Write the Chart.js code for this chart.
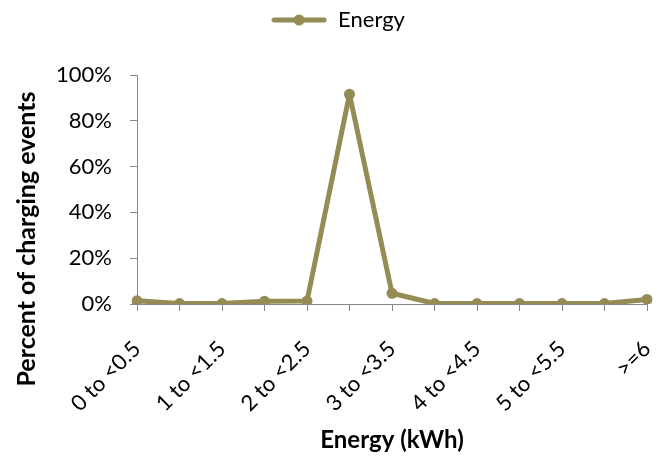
<!DOCTYPE html>
<html>
<head>
<meta charset="utf-8">
<script src="https://cdn.jsdelivr.net/npm/chart.js@4"></script>
<style>
  html, body { margin: 0; padding: 0; background: #fff; }
  #wrap { width: 660px; height: 456px; }
</style>
</head>
<body>
<div id="wrap"><canvas id="c" width="660" height="456"></canvas></div>
<script>
// Energy bins (kWh) and share of charging events in each bin (%)
const categories = ['0 to <0.5', '0.5 to <1', '1 to <1.5', '1.5 to <2', '2 to <2.5', '2.5 to <3',
  '3 to <3.5', '3.5 to <4', '4 to <4.5', '4.5 to <5', '5 to <5.5', '5.5 to <6', '>=6'];
const energyShare = [1.4, 0.2, 0.2, 1.2, 1.3, 91.6, 4.7, 0.2, 0.2, 0.2, 0.2, 0.2, 2.0];
const yTicks = [0, 20, 40, 60, 80, 100];
const seriesName = 'Energy';
const xTitle = 'Energy (kWh)';
const yTitle = 'Percent of charging events';

const olive = '#958B54';
const axisGrey = '#888888';
const fontFamily = 'Lato, "Open Sans", sans-serif';
const legendBandHeight = 75;

// Legend marker: a short line with a dot in the middle
const marker = document.createElement('canvas');
marker.width = 56; marker.height = 14;
(function () {
  const g = marker.getContext('2d');
  g.strokeStyle = olive; g.lineWidth = 5; g.lineCap = 'round';
  g.beginPath(); g.moveTo(3, 7); g.lineTo(53, 7); g.stroke();
  g.fillStyle = olive;
  g.beginPath(); g.arc(28, 7, 5.5, 0, Math.PI * 2); g.fill();
})();

// Reserve a taller band for the legend so the plot starts lower
const legendBandPlugin = {
  id: 'legendBand',
  beforeUpdate(chart) {
    const legend = chart.legend;
    if (legend && !legend._bandPatched) {
      const fit = legend.fit;
      legend.fit = function () {
        fit.call(this);
        this.height = legendBandHeight;
      };
      legend._bandPatched = true;
    }
  }
};

// Vertical axis title, centred on the whole left margin
const yTitlePlugin = {
  id: 'yTitleText',
  afterDraw(chart) {
    const ctx = chart.ctx;
    ctx.save();
    ctx.translate(27, 239);
    ctx.rotate(-Math.PI / 2);
    ctx.font = 'bold 25px ' + fontFamily;
    ctx.fillStyle = '#000';
    ctx.textAlign = 'center';
    ctx.textBaseline = 'middle';
    ctx.fillText(yTitle, 0, 0);
    ctx.restore();
  }
};

new Chart(document.getElementById('c'), {
  type: 'line',
  data: {
    labels: categories,
    datasets: [{
      label: seriesName,
      data: energyShare,
      borderColor: olive,
      backgroundColor: olive,
      borderWidth: 5,
      borderJoinStyle: 'round',
      borderCapStyle: 'round',
      pointRadius: 5.5,
      pointHoverRadius: 5.5,
      pointBackgroundColor: olive,
      pointBorderWidth: 0,
      tension: 0
    }]
  },
  options: {
    responsive: false,
    animation: false,
    layout: { padding: { left: 22, right: 6, top: 0, bottom: 1 } },
    plugins: {
      tooltip: { enabled: false },
      legend: {
        display: true,
        position: 'top',
        labels: {
          usePointStyle: true,
          pointStyle: marker,
          pointStyleWidth: 56,
          color: '#000',
          font: { family: fontFamily, size: 22 },
          padding: 9
        }
      }
    },
    scales: {
      x: {
        type: 'category',
        offset: false,
        afterFit: function (axis) { axis.height = 151; axis.paddingRight = 13; },
        grid: {
          display: true,
          drawOnChartArea: false,
          drawTicks: true,
          tickLength: 7,
          color: axisGrey
        },
        border: { display: true, color: axisGrey, width: 1 },
        ticks: {
          autoSkip: false,
          maxRotation: 45,
          minRotation: 45,
          padding: 25,
          color: '#000',
          font: { family: fontFamily, size: 22 },
          callback: function (v, i) { return i % 2 === 0 ? categories[i] : ''; }
        },
        title: {
          display: true,
          text: xTitle,
          color: '#000',
          font: { family: fontFamily, size: 24, weight: 'bold' },
          padding: { top: 4, bottom: 0 }
        }
      },
      y: {
        min: 0,
        max: 100,
        afterFit: function (axis) { axis.width = 115; },
        afterBuildTicks: function (axis) { axis.ticks = yTicks.map(v => ({ value: v })); },
        grid: {
          display: true,
          drawOnChartArea: false,
          drawTicks: true,
          tickLength: 7,
          color: axisGrey
        },
        border: { display: true, color: axisGrey, width: 1 },
        ticks: {
          padding: 18,
          color: '#000',
          font: { family: fontFamily, size: 22 },
          callback: function (v) { return v + '%'; }
        }
      }
    }
  },
  plugins: [legendBandPlugin, yTitlePlugin]
});
</script>
</body>
</html>
